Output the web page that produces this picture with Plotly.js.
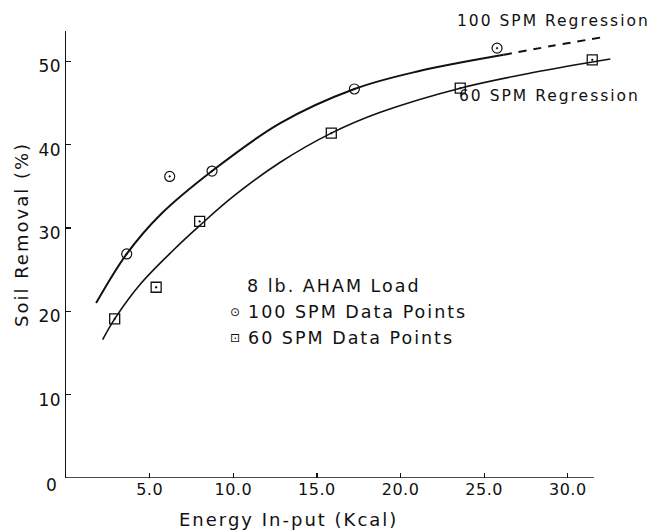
<!DOCTYPE html>
<html>
<head>
<meta charset="utf-8">
<script src="https://cdn.plot.ly/plotly-3.0.1.min.js"></script>
<style>
  html, body { margin: 0; padding: 0; background: #fff; }
  #plot { width: 655px; height: 530px; }
  text { letter-spacing: 2px; }
  #plot .xtick text, #plot .ytick text { letter-spacing: 0.5px; }
</style>
</head>
<body>
<div id="plot"></div>
<script>
// ---- Data ----
const pts100X = [3.63, 6.20, 8.73, 17.24, 25.77];
const pts100Y = [26.9, 36.2, 36.85, 46.7, 51.6];
const pts60X = [2.91, 5.39, 7.99, 15.86, 23.57, 31.46];
const pts60Y = [19.1, 22.9, 30.8, 41.4, 46.8, 50.2];

const reg100X = [1.8, 3.63, 5.64, 8.73, 12.81, 17.24, 21.0, 26.17];
const reg100Y = [21.0, 26.9, 31.6, 36.85, 42.6, 46.7, 48.8, 50.8];
const reg100ExtX = [26.17, 29.0, 32.04];
const reg100ExtY = [50.8, 51.85, 52.9];

const reg60X = [2.19, 2.91, 4.5, 6.44, 7.99, 10.0, 12.81, 15.86, 18.79, 23.57, 28.0, 32.54];
const reg60Y = [16.6, 19.1, 23.4, 27.4, 30.3, 33.8, 37.9, 41.4, 43.9, 46.8, 48.7, 50.3];

const xTickVals = [5, 10, 15, 20, 25, 30];
const xTickText = ['5.0', '10.0', '15.0', '20.0', '25.0', '30.0'];
const yTickVals = [0, 10, 20, 30, 40, 50];
const yTickText = ['', '10', '20', '30', '40', '50'];

// ---- Layout geometry (pixels) ----
const W = 655, H = 530;
const L = 66, T = 31, B = 52;
const xMax = 33, xAxisEnd = 31.56, yMax = 53.66;
const plotW = 552, plotH = H - T - B;
const px = p => (p - L) / plotW;
const py = p => (H - B - p) / plotH;

const FONT = 'DejaVu Sans, sans-serif';
const black = '#111';

const traces = [
  { x: reg100X, y: reg100Y, mode: 'lines', line: { color: black, width: 2, shape: 'spline', smoothing: 1 }, name: '100 SPM Regression', showlegend: false, hoverinfo: 'skip' },
  { x: reg100ExtX, y: reg100ExtY, mode: 'lines', line: { color: black, width: 2, dash: '8px,7px', shape: 'spline' }, name: '100 SPM Regression (extrapolated)', showlegend: false, hoverinfo: 'skip' },
  { x: reg60X, y: reg60Y, mode: 'lines', line: { color: black, width: 1.6, shape: 'spline', smoothing: 1 }, name: '60 SPM Regression', showlegend: false, hoverinfo: 'skip' },
  { x: pts100X, y: pts100Y, mode: 'markers', marker: { symbol: 'circle-open-dot', size: 10, color: black, line: { width: 1.2, color: black } }, name: '100 SPM Data Points', showlegend: false, cliponaxis: false },
  { x: pts60X, y: pts60Y, mode: 'markers', marker: { symbol: 'square-open-dot', size: 10, color: black, line: { width: 1.3, color: black } }, name: '60 SPM Data Points', showlegend: false, cliponaxis: false }
];

const ann = (text, x, y, size, extra) => Object.assign({
  text: text, xref: 'paper', yref: 'paper', x: px(x), y: py(y),
  xanchor: 'left', yanchor: 'middle', showarrow: false,
  font: { family: FONT, size: size, color: black }
}, extra || {});

const layout = {
  width: W, height: H,
  margin: { l: L, r: W - L - plotW, t: T, b: B, pad: 0 },
  paper_bgcolor: '#fff', plot_bgcolor: '#fff',
  showlegend: false,
  font: { family: FONT, color: black },
  xaxis: {
    range: [0, xMax], showgrid: false, zeroline: false, showline: false,
    tickvals: xTickVals, ticktext: xTickText,
    ticks: 'inside', ticklen: 5, tickwidth: 1.3, tickcolor: black,
    tickfont: { family: FONT, size: 16, color: black }
  },
  yaxis: {
    range: [0, yMax], showgrid: false, zeroline: false,
    showline: true, linecolor: black, linewidth: 1.5,
    tickvals: yTickVals, ticktext: yTickText,
    ticks: 'inside', ticklen: 5, tickwidth: 1.3, tickcolor: black,
    ticklabelshift: 5,
    tickfont: { family: FONT, size: 17, color: black }
  },
  shapes: [
    { type: 'line', xref: 'x', yref: 'y', x0: 0, x1: xAxisEnd, y0: 0, y1: 0, line: { color: black, width: 1.5 } }
  ],
  annotations: [
    ann('Energy In-put (Kcal)', 288, 519, 18, { xanchor: 'center' }),
    ann('Soil Removal (%)', 21, 235, 18, { xanchor: 'center', textangle: -90 }),
    ann('0', 52, 485, 17, { xanchor: 'center' }),
    ann('100 SPM Regression', 455, 21, 15.5),
    ann('60 SPM Regression', 457, 96, 15.5),
    ann('8 lb. AHAM Load', 245, 286, 17.5),
    ann('⊙', 236, 312, 12, { xanchor: 'center' }),
    ann('100 SPM Data Points', 246, 312, 17.5),
    ann('⊡', 236, 338, 12, { xanchor: 'center' }),
    ann('60 SPM Data Points', 246, 338, 17.5)
  ]
};

Plotly.newPlot('plot', traces, layout, { displayModeBar: false, staticPlot: true });
</script>
</body>
</html>
